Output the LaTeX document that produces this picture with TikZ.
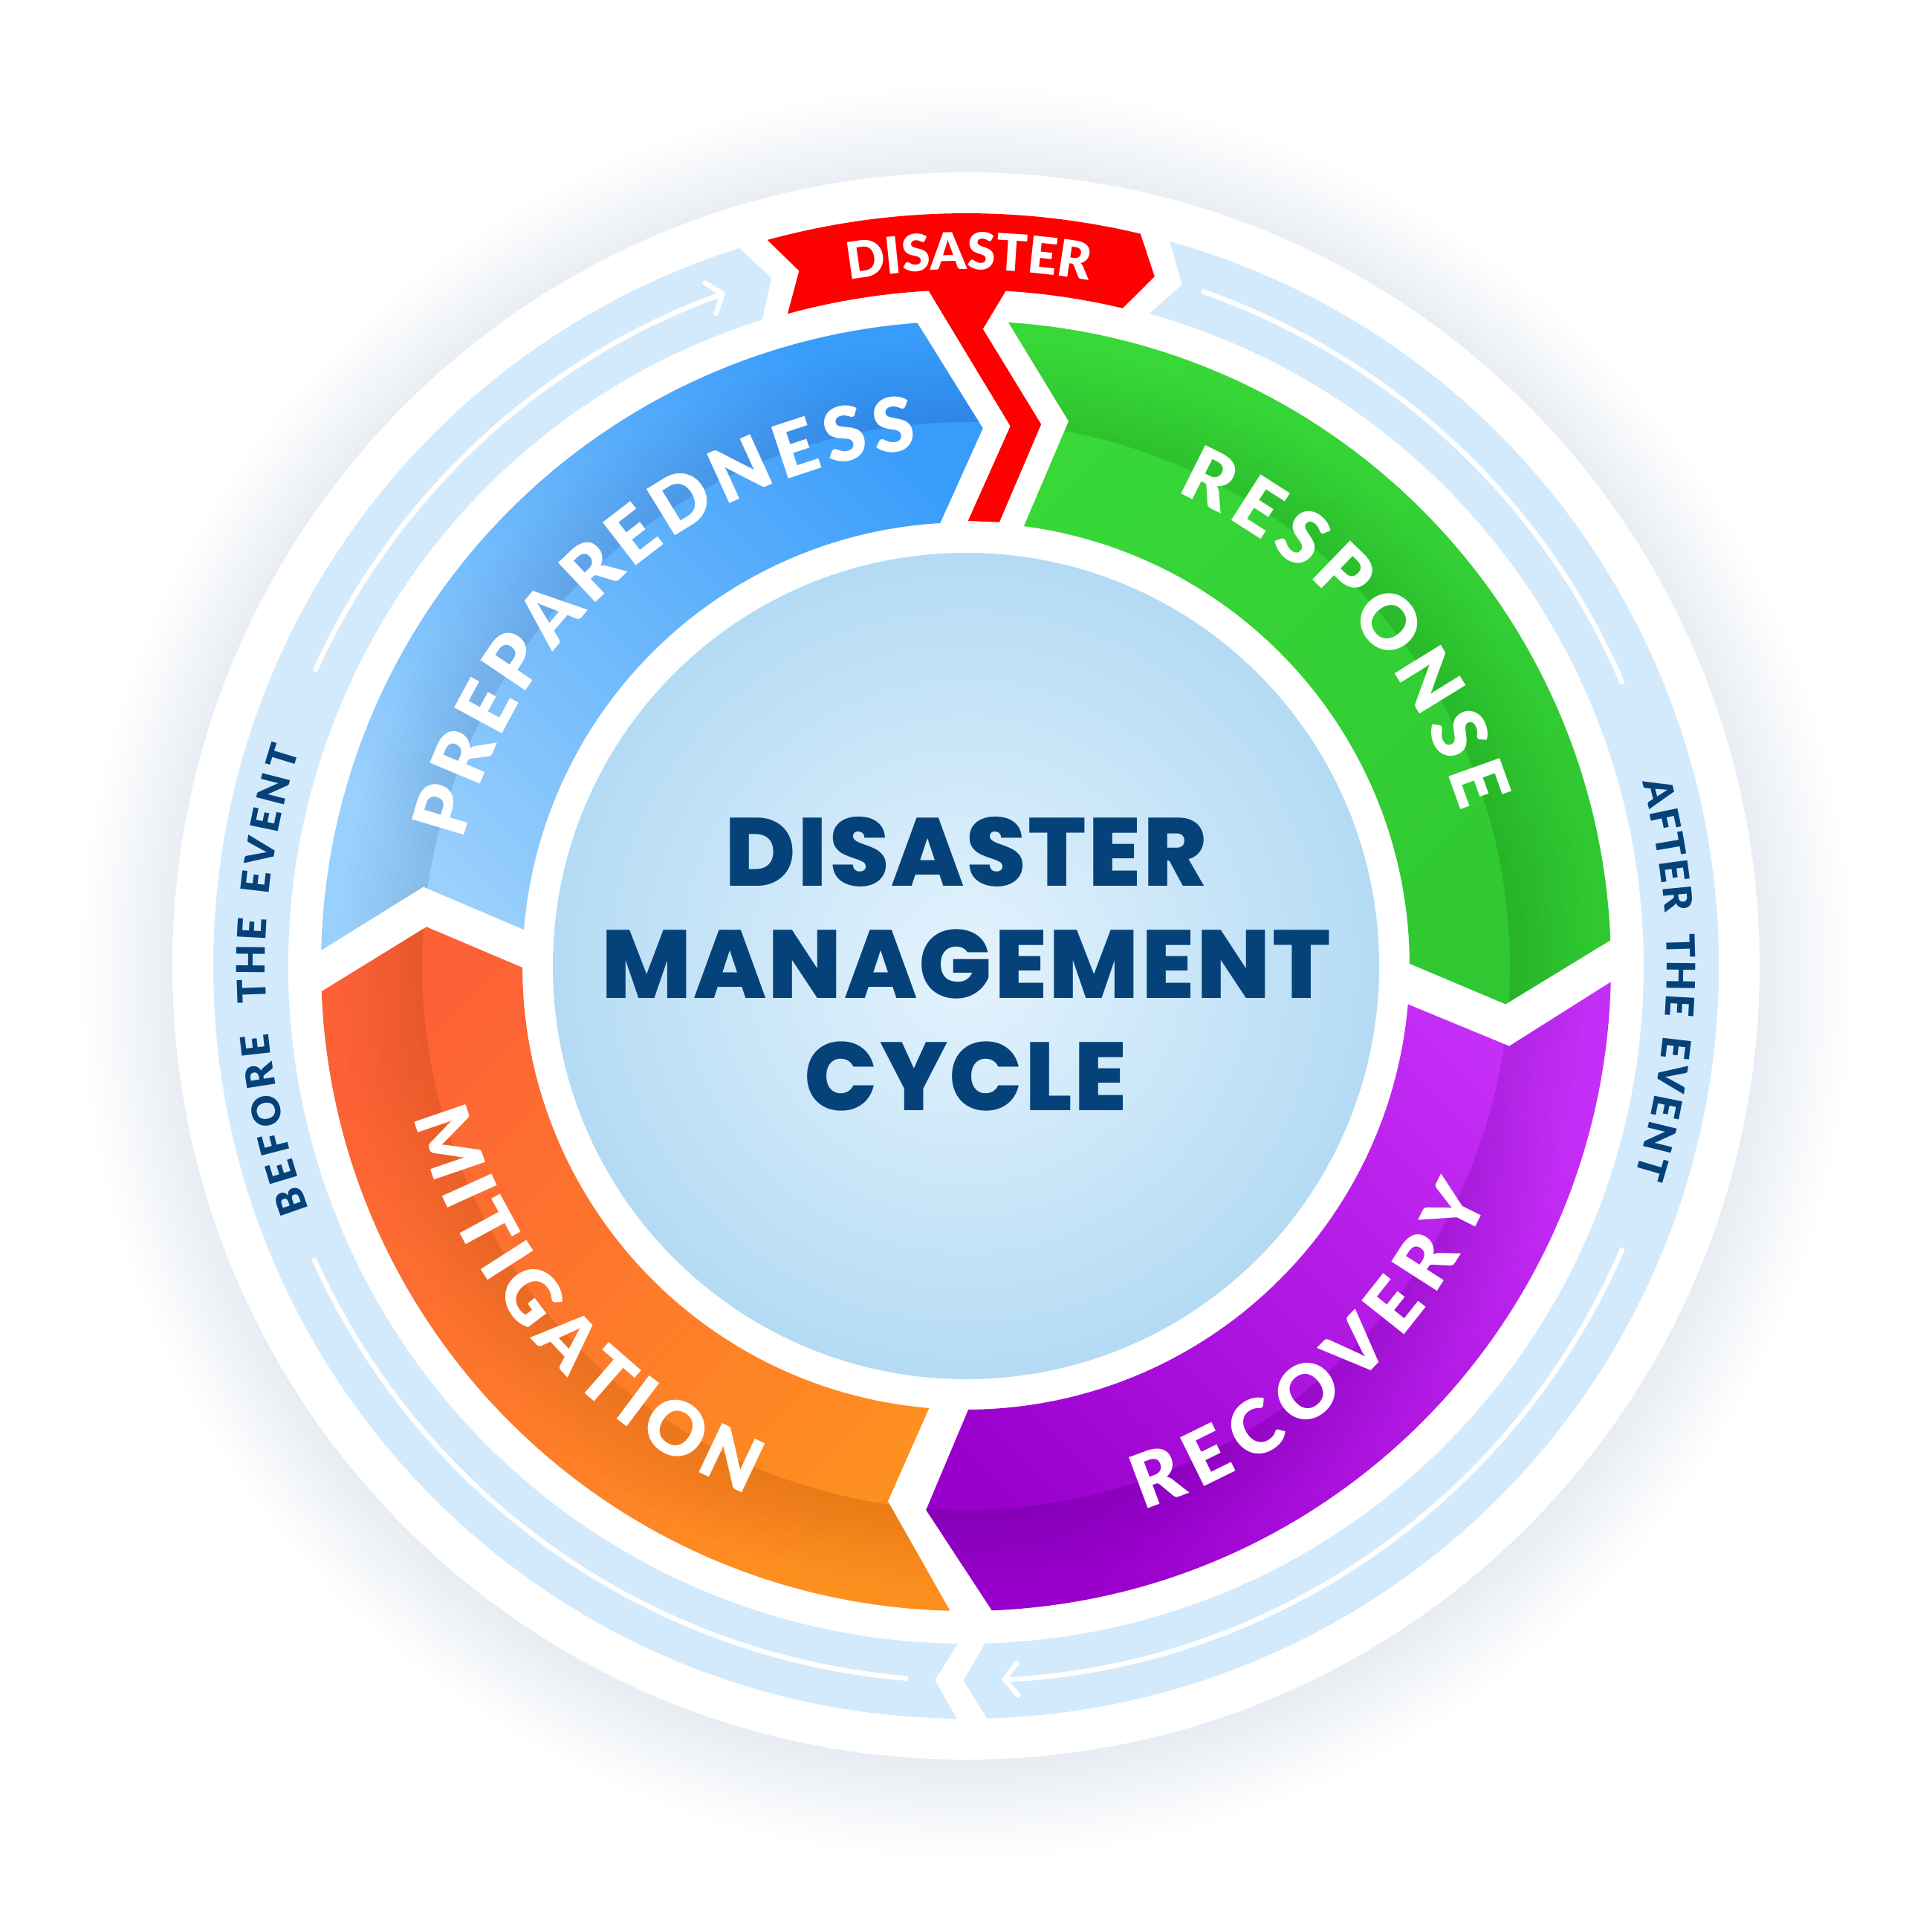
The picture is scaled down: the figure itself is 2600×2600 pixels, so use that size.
\documentclass[tikz,border=0pt]{standalone}
\usepackage{fontspec}
\setmainfont{Poppins}
\newfontfamily\heavyfont{Poppins}[UprightFont=* ExtraBold,LetterSpace=2]
\newfontfamily\labelfont{Lato}[UprightFont=* Black]
\usetikzlibrary{decorations.text,arrows.meta}

\definecolor{bandblue}{HTML}{D3EAFC}
\definecolor{navy}{HTML}{05427A}
\definecolor{prepdark}{HTML}{389CFB}
\definecolor{preplight}{HTML}{9AD0FC}
\definecolor{resplight}{HTML}{38D838}
\definecolor{respdark}{HTML}{30C832}
\definecolor{recovlight}{HTML}{C52EF7}
\definecolor{recovdark}{HTML}{9A00CC}
\definecolor{mitired}{HTML}{FD6136}
\definecolor{mitiyellow}{HTML}{FE9020}
\definecolor{disred}{HTML}{FF0000}
\definecolor{discin}{HTML}{E4F3FD}
\definecolor{discout}{HTML}{B4DBF4}
\definecolor{glowc}{HTML}{E8EDF3}

\pgfdeclareradialshading{discshade}{\pgfpointorigin}{color(0bp)=(discin); color(25bp)=(discout); color(50bp)=(discout)}
\pgfdeclareradialshading{glowshade}{\pgfpointorigin}{color(0bp)=(glowc); color(20.5bp)=(glowc); color(23bp)=(white); color(50bp)=(white)}

\newcommand{\segfont}{\labelfont\fontsize{28.5}{28.5}\selectfont}
\newcommand{\bannerfont}{\labelfont\fontsize{19.5}{19.5}\selectfont}
\newcommand{\bandfont}{\labelfont\fontsize{15}{15}\selectfont}

% text on an arc: font, colour, radius, start angle, end angle, text
\newcommand{\arclabel}[6]{%
  \path[decorate,decoration={text along path,text={|#1|#6},text color=#2,text align={fit to path}}]
    (#4:#3) arc[start angle=#4,end angle=#5,radius=#3];}

% darker fold on the outer half of a segment
\newcommand{\segfold}[2]{%
  \foreach \k in {1,...,10}{
    \fill[black,opacity=0.009] (#1:732) arc[start angle=#1,end angle=#2,radius=732]
      -- (#2:{732+11*\k}) arc[start angle=#2,end angle=#1,radius={732+11*\k}] -- cycle;}}

\tikzset{
  flowline/.style={white,line width=1.9pt,line cap=round},
  flowtip/.style={-{Straight Barb[length=5pt,width=12.5pt,line cap=round,line join=round]}},
  titletext/.style={font=\heavyfont\fontsize{37}{37}\selectfont,text=navy,inner sep=0pt,anchor=base}
}

\def\prepshape{(178.6:868) arc[start angle=178.6,end angle=94.33,radius=868] -- (88.2:724) -- (93.34:597) arc[start angle=93.34,end angle=175.3,radius=597] -- (171.7:738) -- cycle}
\def\respshape{(86.23:868) arc[start angle=86.23,end angle=2.29,radius=868] -- (-4.05:728) -- (0.3:597) arc[start angle=0.3,end angle=82.5,radius=597] -- (79.33:746) -- cycle}
\def\recovshape{(-1.42:868) arc[start angle=-1.42,end angle=-87.7,radius=868] -- (-94.2:734) -- (-89.7:597) arc[start angle=-89.7,end angle=-4.95,radius=597] -- (-8.39:739) -- cycle}
\def\mitishape{(-91.42:868) arc[start angle=-91.42,end angle=-177.74,radius=868] -- (-184.15:728) -- (-179.8:597) arc[start angle=-179.8,end angle=-94.77,radius=597] -- (-98.3:728) -- cycle}

\begin{document}
\begin{tikzpicture}[x=0.01cm,y=0.01cm]

  % Page and soft shadow
  \fill[white] (-1300,-1300) rectangle (1300,1300);
  \useasboundingbox (-1300,-1300) rectangle (1300,1300);
  \shade[shading=glowshade] (0,-8) circle (1300);
  \fill[white] (0,0) circle (1068);

  % Outer band: before / after the event
  \fill[bandblue] (269.3:1013) arc[start angle=269.3,end angle=107.5,radius=1013] -- (105.8:962)
    -- (107.5:912) arc[start angle=107.5,end angle=269.3,radius=912] -- (267.5:962) -- cycle;
  \fill[bandblue] (74.3:1013) arc[start angle=74.3,end angle=-88.4,radius=1013] -- (-90.2:962)
    -- (-88.4:912) arc[start angle=-88.4,end angle=74.3,radius=912] -- (72.4:962) -- cycle;

  % Disaster banner and its stem
  \fill[disred] (105.3:1013) arc[start angle=105.3,end angle=76.6,radius=1013] -- (74.7:962)
    -- (76.6:910) arc[start angle=76.6,end angle=105.3,radius=910] -- (103.5:962) -- cycle;
  \fill[disred] (93.3:914) -- (85.3:729) -- (89.74:599) -- (85.7:599) -- (82.1:736) -- (88.48:857.6) -- (86.5:914) -- cycle;

  % Flow arrows in the band
  \draw[flowline,flowtip] (155.5:962) arc[start angle=155.5,end angle=109.7,radius=962];
  \draw[flowline] (204.3:962) arc[start angle=204.3,end angle=265.2,radius=962];
  \draw[flowline] (70.6:962) arc[start angle=70.6,end angle=23.4,radius=962];
  \draw[flowline,flowtip] (-23.4:962) arc[start angle=-23.4,end angle=-87.1,radius=962];

  % The four phases
  \shade[shading=axis,top color=prepdark,bottom color=preplight,shading angle=-45] \prepshape;
  \begin{scope}
    \clip \prepshape;
    \segfold{180}{88.2}
  \end{scope}
  \shade[shading=axis,top color=resplight,bottom color=respdark,shading angle=45] \respshape;
  \begin{scope}
    \clip \respshape;
    \segfold{87.5}{-4.05}
  \end{scope}
  \shade[shading=axis,top color=recovlight,bottom color=recovdark,shading angle=-45] \recovshape;
  \begin{scope}
    \clip \recovshape;
    \segfold{-0.5}{-94.2}
  \end{scope}
  \shade[shading=axis,top color=mitired,bottom color=mitiyellow,shading angle=45] \mitishape;
  \begin{scope}
    \clip \mitishape;
    \segfold{-90.5}{-184.15}
  \end{scope}

  % Centre disc
  \shade[shading=discshade] (0,0) circle (556);

  % Labels
  \arclabel{\segfont}{white}{698}{166}{95.4}{PREPAREDNESS}
  \arclabel{\segfont}{white}{698}{66.1}{17.3}{RESPONSE}
  \arclabel{\segfont}{white}{770}{-72}{-24}{RECOVERY}
  \arclabel{\segfont}{white}{770}{195.3}{247.5}{MITIGATION}
  \arclabel{\bannerfont}{white}{937}{99.7}{79.9}{DISASTER}

  \arclabel{\bandfont}{navy}{943}{200.3}{185.5}{BEFORE}
  \arclabel{\bandfont}{navy}{943}{183.0}{176.1}{THE}
  \arclabel{\bandfont}{navy}{943}{174.2}{162.0}{EVENT}
  \arclabel{\bandfont}{navy}{943}{15.2}{4.4}{AFTER}
  \arclabel{\bandfont}{navy}{943}{2.6}{-4.1}{THE}
  \arclabel{\bandfont}{navy}{943}{-5.7}{-17.4}{EVENT}

  % Title
  \node[titletext] (title1) at (0,107) {DISASTER};
  \node[titletext] (title2) at (0,-43) {MANAGEMENT};
  \node[titletext] (title3) at (0,-194) {CYCLE};

\end{tikzpicture}
\end{document}
